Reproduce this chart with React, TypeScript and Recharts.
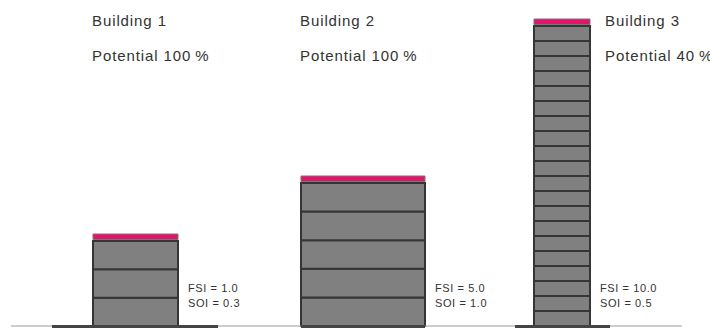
import React from 'react';
import {
  ComposedChart,
  XAxis,
  YAxis,
  ReferenceArea,
  ReferenceLine,
  ReferenceDot,
} from 'recharts';

// buildings (x = ground position, y = height above ground)
const buildingNames = ['Building 1', 'Building 2', 'Building 3'];
const potentials = [100, 100, 40];
const fsiValues = [1.0, 5.0, 10.0];
const soiValues = [0.3, 1.0, 0.5];
const floorCounts = [3, 5, 20];
const buildingHeights = [85, 143, 300];
const buildingLeft = [93, 301, 534];
const buildingRight = [178, 425, 590];
const plotLeft = [52, 301, 515];
const plotRight = [218, 425, 610];
const ground = [
  { x: 11, y: 0 },
  { x: 682, y: 0 },
];

const FONT = '"Liberation Sans", Arial, sans-serif';

const TextMark = (text: string, size: number, spacing: number) => (props: any) => (
  <text
    x={props.cx}
    y={props.cy}
    fill="#333"
    fontFamily={FONT}
    fontSize={size}
    letterSpacing={spacing}
  >
    {text}
  </text>
);

const App: React.FC = () => {
  const floors: React.ReactNode[] = [];
  buildingNames.forEach((name, b) => {
    const h = buildingHeights[b] / floorCounts[b];
    for (let i = 0; i < floorCounts[b]; i++) {
      floors.push(
        <ReferenceArea
          key={`${name}-floor-${i}`}
          x1={buildingLeft[b]}
          x2={buildingRight[b]}
          y1={i * h}
          y2={(i + 1) * h}
          fill="#808080"
          fillOpacity={1}
          stroke="#353535"
          strokeWidth={2}
        />
      );
    }
  });

  return (
    <div style={{ position: 'absolute', left: 0, top: 0 }}>
      <ComposedChart
        width={710}
        height={329}
        data={ground}
        margin={{ top: 0, right: 0, bottom: 0, left: 0 }}
      >
        <XAxis type="number" dataKey="x" domain={[0, 710]} hide allowDataOverflow />
        <YAxis type="number" domain={[-3, 326]} hide allowDataOverflow />
        <ReferenceLine segment={ground} stroke="#9a9a9a" strokeWidth={1} />
        {buildingNames.map((name, b) => (
          <ReferenceLine
            key={`${name}-plot`}
            segment={[
              { x: plotLeft[b], y: -0.5 },
              { x: plotRight[b], y: -0.5 },
            ]}
            stroke="#444"
            strokeWidth={3}
          />
        ))}
        {floors}
        {buildingNames.map((name, b) => (
          <ReferenceArea
            key={`${name}-roof`}
            x1={buildingLeft[b]}
            x2={buildingRight[b]}
            y1={buildingHeights[b] + 1.5}
            y2={buildingHeights[b] + 7}
            fill="#e2156b"
            fillOpacity={1}
            stroke="#777"
            strokeWidth={1}
          />
        ))}
        {buildingNames.map((name, b) => {
          const tx = b < 2 ? buildingLeft[b] - 1 : buildingRight[b] + 15;
          return (
            <React.Fragment key={`${name}-text`}>
              <ReferenceDot x={tx} y={300} shape={TextMark(name, 15, 0.9)} />
              <ReferenceDot
                x={tx}
                y={265}
                shape={TextMark(`Potential ${potentials[b]}\u2009%`, 15, 0.9)}
              />
              <ReferenceDot
                x={buildingRight[b] + 10}
                y={34}
                shape={TextMark(`FSI = ${fsiValues[b].toFixed(1)}`, 11, 0.6)}
              />
              <ReferenceDot
                x={buildingRight[b] + 10}
                y={19}
                shape={TextMark(`SOI = ${soiValues[b].toFixed(1)}`, 11, 0.6)}
              />
            </React.Fragment>
          );
        })}
      </ComposedChart>
    </div>
  );
};

export default App;
